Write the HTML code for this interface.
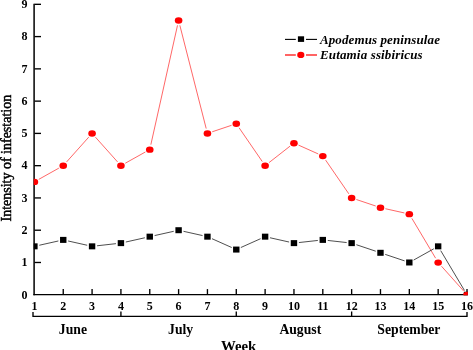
<!DOCTYPE html>
<html><head><meta charset="utf-8"><style>
html,body{margin:0;padding:0;background:#fff;}
svg{display:block;will-change:transform;}
text{font-family:"Liberation Serif",serif;}
</style></head><body>
<svg width="473" height="350" viewBox="0 0 473 350">
<rect width="473" height="350" fill="#fff"/>
<defs><clipPath id="pc"><rect x="33.7" y="0" width="434.20" height="295.2"/></clipPath></defs>
<g stroke="#000" stroke-width="1.35" fill="none">
<line x1="34.1" y1="3.82" x2="34.1" y2="295.3" stroke-width="1.5"/>
<line x1="33.35" y1="294.6" x2="467.70" y2="294.6" stroke-width="1.4"/>
<line x1="34.5" y1="262.48" x2="41.0" y2="262.48"/>
<line x1="34.5" y1="230.21" x2="41.0" y2="230.21"/>
<line x1="34.5" y1="197.94" x2="41.0" y2="197.94"/>
<line x1="34.5" y1="165.67" x2="41.0" y2="165.67"/>
<line x1="34.5" y1="133.40" x2="41.0" y2="133.40"/>
<line x1="34.5" y1="101.13" x2="41.0" y2="101.13"/>
<line x1="34.5" y1="68.86" x2="41.0" y2="68.86"/>
<line x1="34.5" y1="36.59" x2="41.0" y2="36.59"/>
<line x1="34.5" y1="4.32" x2="41.0" y2="4.32"/>
<line x1="63.24" y1="294.6" x2="63.24" y2="289.1"/>
<line x1="92.08" y1="294.6" x2="92.08" y2="289.1"/>
<line x1="120.92" y1="294.6" x2="120.92" y2="289.1"/>
<line x1="149.76" y1="294.6" x2="149.76" y2="289.1"/>
<line x1="178.60" y1="294.6" x2="178.60" y2="289.1"/>
<line x1="207.44" y1="294.6" x2="207.44" y2="289.1"/>
<line x1="236.28" y1="294.6" x2="236.28" y2="289.1"/>
<line x1="265.12" y1="294.6" x2="265.12" y2="289.1"/>
<line x1="293.96" y1="294.6" x2="293.96" y2="289.1"/>
<line x1="322.80" y1="294.6" x2="322.80" y2="289.1"/>
<line x1="351.64" y1="294.6" x2="351.64" y2="289.1"/>
<line x1="380.48" y1="294.6" x2="380.48" y2="289.1"/>
<line x1="409.32" y1="294.6" x2="409.32" y2="289.1"/>
<line x1="438.16" y1="294.6" x2="438.16" y2="289.1"/>
<line x1="467.00" y1="294.6" x2="467.00" y2="289.1"/>
<path d="M33 312.0 V316.3 H467.00 V312.0" /><line x1="120.92" y1="316.3" x2="120.92" y2="311.5"/><line x1="236.28" y1="316.3" x2="236.28" y2="311.5"/><line x1="351.64" y1="316.3" x2="351.64" y2="311.5"/>
</g>
<g clip-path="url(#pc)">
<g stroke="#ff4040" stroke-width="0.8" fill="none">
<line x1="38.76" y1="179.36" x2="58.88" y2="168.11"/>
<line x1="66.57" y1="161.94" x2="88.75" y2="137.13"/>
<line x1="95.41" y1="137.13" x2="117.59" y2="161.94"/>
<line x1="125.28" y1="163.23" x2="145.40" y2="151.98"/>
<line x1="150.85" y1="144.66" x2="177.51" y2="25.33"/>
<line x1="179.84" y1="25.30" x2="206.20" y2="128.56"/>
<line x1="212.18" y1="131.81" x2="231.54" y2="125.31"/>
<line x1="239.11" y1="127.84" x2="262.29" y2="161.55"/>
<line x1="269.06" y1="162.59" x2="290.02" y2="146.16"/>
<line x1="298.52" y1="145.12" x2="318.24" y2="153.95"/>
<line x1="325.63" y1="160.11" x2="348.81" y2="193.82"/>
<line x1="356.38" y1="199.53" x2="375.74" y2="206.03"/>
<line x1="385.36" y1="208.71" x2="404.44" y2="212.98"/>
<line x1="411.88" y1="218.37" x2="435.60" y2="258.18"/>
<line x1="441.49" y1="266.21" x2="463.67" y2="291.02"/>
</g>
<g stroke="#222" stroke-width="0.8" fill="none">
<line x1="39.28" y1="245.25" x2="58.36" y2="240.98"/>
<line x1="68.12" y1="240.98" x2="87.20" y2="245.25"/>
<line x1="97.05" y1="245.79" x2="115.95" y2="243.67"/>
<line x1="125.80" y1="242.03" x2="144.88" y2="237.76"/>
<line x1="154.64" y1="235.57" x2="173.72" y2="231.30"/>
<line x1="183.48" y1="231.30" x2="202.56" y2="235.57"/>
<line x1="212.00" y1="238.71" x2="231.72" y2="247.53"/>
<line x1="240.84" y1="247.53" x2="260.56" y2="238.71"/>
<line x1="270.00" y1="237.76" x2="289.08" y2="242.03"/>
<line x1="298.93" y1="242.56" x2="317.83" y2="240.45"/>
<line x1="327.77" y1="240.45" x2="346.67" y2="242.56"/>
<line x1="356.38" y1="244.71" x2="375.74" y2="251.21"/>
<line x1="385.22" y1="254.39" x2="404.58" y2="260.89"/>
<line x1="413.68" y1="260.04" x2="433.80" y2="248.79"/>
<line x1="440.72" y1="250.64" x2="464.44" y2="290.45"/>
</g>
<g fill="#000">
<rect x="31.20" y="243.34" width="6.4" height="6.0"/>
<rect x="60.04" y="236.89" width="6.4" height="6.0"/>
<rect x="88.88" y="243.34" width="6.4" height="6.0"/>
<rect x="117.72" y="240.12" width="6.4" height="6.0"/>
<rect x="146.56" y="233.66" width="6.4" height="6.0"/>
<rect x="175.40" y="227.21" width="6.4" height="6.0"/>
<rect x="204.24" y="233.66" width="6.4" height="6.0"/>
<rect x="233.08" y="246.57" width="6.4" height="6.0"/>
<rect x="261.92" y="233.66" width="6.4" height="6.0"/>
<rect x="290.76" y="240.12" width="6.4" height="6.0"/>
<rect x="319.60" y="236.89" width="6.4" height="6.0"/>
<rect x="348.44" y="240.12" width="6.4" height="6.0"/>
<rect x="377.28" y="249.80" width="6.4" height="6.0"/>
<rect x="406.12" y="259.48" width="6.4" height="6.0"/>
<rect x="434.96" y="243.34" width="6.4" height="6.0"/>
<rect x="463.80" y="291.75" width="6.4" height="6.0"/>
</g>
<g fill="#ff0000">
<ellipse cx="34.40" cy="181.91" rx="3.8" ry="3.2"/>
<ellipse cx="63.24" cy="165.77" rx="3.8" ry="3.2"/>
<ellipse cx="92.08" cy="133.50" rx="3.8" ry="3.2"/>
<ellipse cx="120.92" cy="165.77" rx="3.8" ry="3.2"/>
<ellipse cx="149.76" cy="149.63" rx="3.8" ry="3.2"/>
<ellipse cx="178.60" cy="20.55" rx="3.8" ry="3.2"/>
<ellipse cx="207.44" cy="133.50" rx="3.8" ry="3.2"/>
<ellipse cx="236.28" cy="123.82" rx="3.8" ry="3.2"/>
<ellipse cx="265.12" cy="165.77" rx="3.8" ry="3.2"/>
<ellipse cx="293.96" cy="143.18" rx="3.8" ry="3.2"/>
<ellipse cx="322.80" cy="156.09" rx="3.8" ry="3.2"/>
<ellipse cx="351.64" cy="198.04" rx="3.8" ry="3.2"/>
<ellipse cx="380.48" cy="207.72" rx="3.8" ry="3.2"/>
<ellipse cx="409.32" cy="214.17" rx="3.8" ry="3.2"/>
<ellipse cx="438.16" cy="262.58" rx="3.8" ry="3.2"/>
<ellipse cx="467.00" cy="294.85" rx="3.8" ry="3.2"/>
</g>
</g>
<g font-size="12" font-weight="bold" fill="#000">
<text x="27.5" y="298.55" text-anchor="end">0</text>
<text x="27.5" y="266.28" text-anchor="end">1</text>
<text x="27.5" y="234.01" text-anchor="end">2</text>
<text x="27.5" y="201.74" text-anchor="end">3</text>
<text x="27.5" y="169.47" text-anchor="end">4</text>
<text x="27.5" y="137.20" text-anchor="end">5</text>
<text x="27.5" y="104.93" text-anchor="end">6</text>
<text x="27.5" y="72.66" text-anchor="end">7</text>
<text x="27.5" y="40.39" text-anchor="end">8</text>
<text x="27.5" y="8.12" text-anchor="end">9</text>
<text x="34.40" y="309.5" text-anchor="middle">1</text>
<text x="63.24" y="309.5" text-anchor="middle">2</text>
<text x="92.08" y="309.5" text-anchor="middle">3</text>
<text x="120.92" y="309.5" text-anchor="middle">4</text>
<text x="149.76" y="309.5" text-anchor="middle">5</text>
<text x="178.60" y="309.5" text-anchor="middle">6</text>
<text x="207.44" y="309.5" text-anchor="middle">7</text>
<text x="236.28" y="309.5" text-anchor="middle">8</text>
<text x="265.12" y="309.5" text-anchor="middle">9</text>
<text x="293.96" y="309.5" text-anchor="middle">10</text>
<text x="322.80" y="309.5" text-anchor="middle">11</text>
<text x="351.64" y="309.5" text-anchor="middle">12</text>
<text x="380.48" y="309.5" text-anchor="middle">13</text>
<text x="409.32" y="309.5" text-anchor="middle">14</text>
<text x="438.16" y="309.5" text-anchor="middle">15</text>
<text x="467.00" y="309.5" text-anchor="middle">16</text>
</g>
<g font-size="13.7" font-weight="bold" fill="#000">
<text x="72.90" y="333.7" text-anchor="middle">June</text>
<text x="180.60" y="333.7" text-anchor="middle">July</text>
<text x="300.30" y="333.7" text-anchor="middle">August</text>
<text x="408.90" y="333.7" text-anchor="middle">September</text>
</g>
<text x="238.6" y="350.7" text-anchor="middle" font-size="14.8" font-weight="bold">Week</text>
<text transform="translate(10.6,221.5) rotate(-90) scale(1,1.08)" font-size="14" stroke="#000" stroke-width="0.45">Intensity of infestation</text>
<g>
<line x1="285" y1="39.4" x2="295.8" y2="39.4" stroke="#000" stroke-width="1.1"/>
<line x1="306" y1="39.4" x2="317" y2="39.4" stroke="#000" stroke-width="1.1"/>
<rect x="297.9" y="36.3" width="6.2" height="5.6" fill="#000"/>
<line x1="285" y1="55" x2="295.8" y2="55" stroke="#ff1010" stroke-width="1.3"/>
<line x1="306" y1="55" x2="317" y2="55" stroke="#ff1010" stroke-width="1.3"/>
<ellipse cx="300.8" cy="54.9" rx="3.6" ry="3.15" fill="#ff0000"/>
<text x="320" y="43.6" font-size="13" letter-spacing="0.1" font-weight="bold" font-style="italic">Apodemus peninsulae</text>
<text x="320" y="59.3" font-size="13" letter-spacing="0.15" font-weight="bold" font-style="italic">Eutamia ssibiricus</text>
</g>
</svg>
</body></html>
